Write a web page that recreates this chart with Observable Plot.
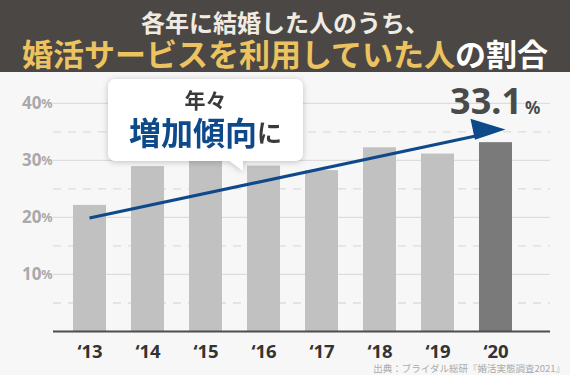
<!DOCTYPE html>
<html>
<head>
<meta charset="utf-8">
<script src="https://cdn.jsdelivr.net/npm/d3@7"></script>
<script src="https://cdn.jsdelivr.net/npm/@observablehq/plot@0.6"></script>
<style>
  html, body { margin: 0; padding: 0; }
  body { width: 570px; height: 375px; overflow: hidden; position: relative; background: #f7f7f7;
         font-family: "Noto Sans CJK JP", "Noto Sans", sans-serif; }
  #header { height: 72px; background: #4a4745; box-sizing: border-box; padding-top: 8px; text-align: center; font-weight: 700; }
  #line1 { font-size: 24px; line-height: 28px; height: 28px; color: #efebe3; }
  #line1 span, #line2 span { display: inline-block; vertical-align: top; }
  #line1 span { line-height: 28px; height: 28px; }
  #line2 { font-size: 31px; line-height: 34px; height: 34px; color: #ffffff; }
  #line2 span { line-height: 34px; height: 34px; }
  #line2 .gold { color: #ecc35f; }
  #chart { height: 290px; }
  #chart svg { overflow: visible; display: block; }
  #caption { height: 13px; line-height: 13px; font-size: 9.5px; color: #aaaaaa; text-align: right; padding-right: 5px; }
  #callout { position: absolute; left: 108px; top: 79px; width: 195px; height: 82px; filter: drop-shadow(0 1px 3px rgba(0,0,0,0.22)); }
  #callout .box { position: absolute; inset: 0; background: #fff; border-radius: 7px; text-align: center; font-weight: 700; }
  #callout .ptr { position: absolute; left: 120px; top: 81px; width: 0; height: 0; border-top: 11px solid #fff; border-left: 15px solid transparent; }
  #callout .l1 { position: absolute; left: 0; right: 0; top: 8px; height: 24px; font-size: 21px; line-height: 24px; color: #3a3a3a; }
  #callout .l1 span { display: inline-block; line-height: 24px; height: 24px; vertical-align: top; }
  #callout .l2 { position: absolute; left: 0; right: 0; top: 33px; height: 38px; font-size: 32px; line-height: 38px; color: #3a3a3a; white-space: nowrap; }
  #callout .l2 span { display: inline-block; line-height: 38px; height: 38px; vertical-align: top; }
  #callout .l2 .blue { color: #0e4a8a; }
  #callout .l2 .ni { font-size: 25px; }
</style>
</head>
<body>
<div id="header">
  <div id="line1"></div>
  <div id="line2"></div>
</div>
<div id="chart"></div>
<div id="caption"></div>
<div id="callout"><div class="ptr"></div><div class="box"><div class="l1"></div><div class="l2"></div></div></div>
<script>
// ---- data ----
const years = ["‘13", "‘14", "‘15", "‘16", "‘17", "‘18", "‘19", "‘20"];
const shares = [22.1, 28.9, 30.3, 29.0, 28.2, 32.2, 31.1, 33.1];
const highlightYear = "‘20";
const solidTicks = [10, 20, 30, 40];
const dashTicks = [5, 15, 25, 35];
const trendStart = { year: "‘13", value: 19.8 };
const trendEnd = { year: "‘20", value: 35.3 };
const titleLine1 = "各年に結婚した人のうち、";
const titleGold = "婚活サービスを利用していた人";
const titleRest = "の割合";
const calloutTop = "年々";
const calloutBlue = "増加傾向";
const calloutTail = "に";
const highlightLabel = "33.1";
const captionText = "出典：ブライダル総研『婚活実態調査2021』";

// ---- texts ----
function span(parent, text, cls) {
  const s = document.createElement("span");
  if (cls) s.className = cls;
  s.textContent = text;
  parent.appendChild(s);
}
span(document.getElementById("line1"), titleLine1);
const l2 = document.getElementById("line2");
span(l2, titleGold, "gold");
span(l2, titleRest);
document.getElementById("caption").textContent = captionText;
span(document.querySelector("#callout .l1"), calloutTop);
const cl2 = document.querySelector("#callout .l2");
span(cl2, calloutBlue, "blue");
span(cl2, calloutTail, "ni");

const data = years.map((year, i) => ({ year, value: shares[i] }));
const numFont = "'Noto Sans', 'Open Sans', sans-serif";

const chart = Plot.plot({
  width: 570,
  height: 290,
  marginLeft: 53,
  marginRight: 20,
  marginTop: 0,
  marginBottom: 31,
  style: { background: "transparent", overflow: "visible" },
  x: { domain: years, range: [60.5, 524.5], paddingInner: 0.43, paddingOuter: 0.215, axis: null },
  y: { domain: [0, 45.4], axis: null },
  marks: [
    Plot.ruleY(solidTicks, { stroke: "#dddddd", strokeWidth: 1.3 }),
    Plot.ruleY(dashTicks, { stroke: "#dddddd", strokeWidth: 1.3, strokeDasharray: "8,7" }),
    Plot.barY(data, { x: "year", y: "value", fill: d => d.year === highlightYear ? "#7a7a7a" : "#c1c1c1" }),
    Plot.ruleY([0], { stroke: "#4d4d4d", strokeWidth: 2 }),
    Plot.text(solidTicks, { y: d => d, text: d => String(d), frameAnchor: "left", textAnchor: "end", dx: -12,
      fontSize: 17, fontWeight: 700, fill: "#a9a9a9", fontFamily: numFont }),
    Plot.text(solidTicks, { y: d => d, text: () => "%", frameAnchor: "left", textAnchor: "end", dx: -1, dy: 1,
      fontSize: 12.5, fontWeight: 700, fill: "#a9a9a9", fontFamily: numFont }),
    Plot.text(years, { x: d => d, text: d => d, frameAnchor: "bottom", dy: 21, lineAnchor: "middle",
      fontSize: 18.5, fontWeight: 700, fill: "#333333", fontFamily: numFont }),
    Plot.text(data.filter(d => d.year === highlightYear), { x: "year", y: "value", text: () => highlightLabel,
      textAnchor: "end", lineAnchor: "bottom", dx: 26, dy: -29, fontSize: 36, fontWeight: 700, fill: "#4a4a4a", fontFamily: numFont }),
    Plot.text(data.filter(d => d.year === highlightYear), { x: "year", y: "value", text: () => "%",
      textAnchor: "start", lineAnchor: "bottom", dx: 29, dy: -29, fontSize: 17, fontWeight: 700, fill: "#4a4a4a", fontFamily: numFont })
  ]
});
document.getElementById("chart").appendChild(chart);

// ---- trend arrow drawn through the plot's own scales ----
const xs = chart.scale("x"), ys = chart.scale("y");
let fx, fy;
if (xs && typeof xs.apply === "function") {
  const bw = xs.bandwidth || 0;
  fx = v => xs.apply(v) + bw / 2;
} else {
  const sb = d3.scaleBand().domain(xs.domain).range(xs.range)
    .paddingInner(xs.paddingInner ?? xs.padding ?? 0).paddingOuter(xs.paddingOuter ?? xs.padding ?? 0).align(xs.align ?? 0.5);
  fx = v => sb(v) + sb.bandwidth() / 2;
}
if (ys && typeof ys.apply === "function") fy = v => ys.apply(v);
else { const sl = d3.scaleLinear().domain(ys.domain).range(ys.range); fy = v => sl(v); }

const S = [fx(trendStart.year), fy(trendStart.value)];
const T = [fx(trendEnd.year) + 10, fy(trendEnd.value)];
const len = Math.hypot(T[0] - S[0], T[1] - S[1]);
const u = [(T[0] - S[0]) / len, (T[1] - S[1]) / len];
const nUp = [u[1], -u[0]]; // perpendicular pointing upward
const headLen = 32;
const A = [T[0] - headLen * u[0] + 18 * nUp[0], T[1] - headLen * u[1] + 18 * nUp[1]];
const B = [T[0] - headLen * u[0] - 3.5 * nUp[0], T[1] - headLen * u[1] - 3.5 * nUp[1]];
const E = [T[0] - (headLen - 4) * u[0], T[1] - (headLen - 4) * u[1]];
const gA = d3.select(chart).append("g").attr("class", "trend");
gA.append("line").attr("x1", S[0]).attr("y1", S[1]).attr("x2", E[0]).attr("y2", E[1])
  .attr("stroke", "#0e4a8a").attr("stroke-width", 3.2);
gA.append("path").attr("d", `M${T[0]},${T[1]}L${A[0]},${A[1]}L${B[0]},${B[1]}Z`).attr("fill", "#0e4a8a");
</script>
</body>
</html>
